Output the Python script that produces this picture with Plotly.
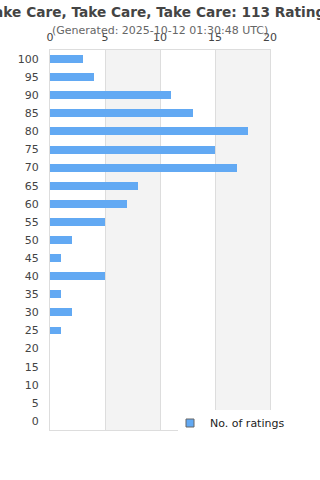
import plotly.graph_objects as go

ratings = [100, 95, 90, 85, 80, 75, 70, 65, 60, 55, 50, 45, 40, 35, 30, 25, 20, 15, 10, 5, 0]
counts = [3, 4, 11, 13, 18, 15, 17, 8, 7, 5, 2, 1, 5, 1, 2, 1, 0, 0, 0, 0, 0]
x_ticks = [0, 5, 10, 15, 20]
title_text = "Take Care, Take Care, Take Care: 113 Ratings"
subtitle_text = "(Generated: 2025-10-12 01:30:48 UTC)"
series_name = "No. of ratings"

BLUE = "#62a9f3"
FONT = "DejaVu Sans"
W, H = 320, 480
ML, MR, MT, MB = 50, 50, 50, 50
PW, PH = W - ML - MR, H - MT - MB

fig = go.Figure()
fig.add_trace(go.Bar(
    x=counts, y=ratings, orientation="h", width=2.2,
    marker=dict(color=BLUE, line=dict(width=0)),
    showlegend=False, hoverinfo="x+y",
))
fig.add_trace(go.Scatter(
    x=[None], y=[None], mode="markers", name=series_name,
    marker=dict(symbol="square", size=8, color=BLUE, line=dict(color="#666", width=1)),
))

shapes = []
for a, b in [(5, 10), (15, 20)]:
    shapes.append(dict(type="rect", xref="x", yref="paper", x0=a, x1=b, y0=0, y1=1,
                       fillcolor="#f3f3f3", line=dict(width=0), layer="below"))
# white legend background box
shapes.append(dict(type="rect", xref="paper", yref="paper",
                   x0=(178 - ML) / PW, x1=(330 - ML) / PW,
                   y0=(H - MB - 442) / PH, y1=(H - MB - 410) / PH,
                   fillcolor="white", line=dict(width=0), layer="above"))

fig.update_layout(
    width=W, height=H,
    margin=dict(l=ML, r=MR, t=MT, b=MB, pad=0),
    paper_bgcolor="white", plot_bgcolor="white",
    font=dict(family=FONT, size=11, color="#444"),
    title=dict(text="<b>" + title_text + "</b>", x=0.5, xanchor="center",
               y=1 - 12 / H, yanchor="middle", yref="container",
               font=dict(family=FONT, size=13.7, color="#444")),
    annotations=[dict(text=subtitle_text, xref="paper", yref="paper",
                      x=(160 - ML) / PW, y=(H - MB - 30) / PH, xanchor="center", yanchor="middle",
                      showarrow=False, font=dict(family=FONT, size=11, color="#666"))],
    shapes=shapes,
    xaxis=dict(side="top", range=[0, 20], tickvals=x_ticks, showgrid=True, gridcolor="#ddd",
               showline=True, linecolor="#ddd", mirror=True, zeroline=False,
               ticks="outside", ticklen=4, tickcolor="rgba(0,0,0,0)",
               tickfont=dict(size=11, color="#444"), fixedrange=True),
    yaxis=dict(range=[-2.5, 102.5], tickvals=ratings, showgrid=False,
               showline=True, linecolor="#ddd", mirror=True, zeroline=False,
               ticks="outside", ticklen=8, tickcolor="rgba(0,0,0,0)",
               tickfont=dict(size=11, color="#444"), fixedrange=True),
    legend=dict(x=(170 - ML) / PW, xanchor="left", y=(H - MB - 423) / PH, yanchor="middle",
                bgcolor="rgba(0,0,0,0)", font=dict(size=11, color="#222")),
    bargap=0,
)

fig.write_html("out.html")
